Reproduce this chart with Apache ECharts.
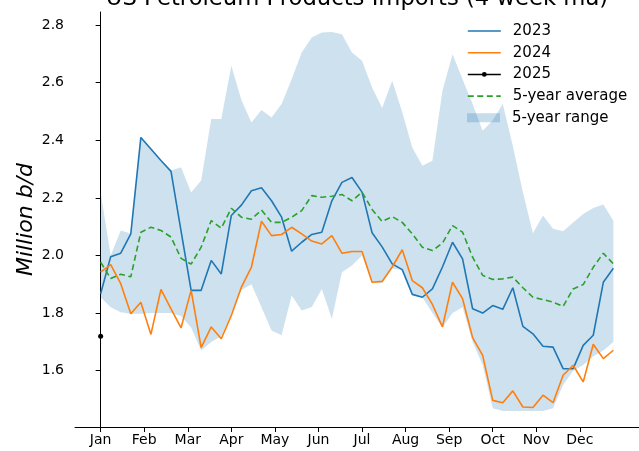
<!DOCTYPE html>
<html>
<head>
<meta charset="utf-8">
<script src="https://cdn.jsdelivr.net/npm/echarts@6/dist/echarts.min.js"></script>
<style>
  html, body { margin: 0; padding: 0; background: #fff; }
  #chart { width: 639px; height: 451px; }
</style>
</head>
<body>
<div id="chart"></div>
<script>
// Weekly US petroleum products imports, 4-week moving average, million b/d.
// Index = week of the year (0..51).
const monthLabels = ['Jan', 'Feb', 'Mar', 'Apr', 'May', 'Jun', 'Jul', 'Aug', 'Sep', 'Oct', 'Nov', 'Dec'];
const yTickValues = [1.6, 1.8, 2.0, 2.2, 2.4, 2.6, 2.8];

const imports2023 = [
  1.867, 1.996, 2.008, 2.075, 2.41, 2.37, 2.33, 2.292, 2.085, 1.879,
  1.879, 1.983, 1.936, 2.139, 2.175, 2.225, 2.235, 2.19, 2.133, 2.015,
  2.046, 2.073, 2.081, 2.19, 2.254, 2.271, 2.22, 2.079, 2.03, 1.971,
  1.951, 1.865, 1.855, 1.884, 1.96, 2.046, 1.988, 1.815, 1.80, 1.826,
  1.813, 1.888, 1.754, 1.728, 1.685, 1.682, 1.607, 1.607, 1.688, 1.723,
  1.907, 1.956
];

const imports2024 = [
  1.942, 1.968, 1.902, 1.798, 1.838, 1.726, 1.882, 1.815, 1.749, 1.879,
  1.68, 1.752, 1.711, 1.792, 1.89, 1.96, 2.119, 2.069, 2.073, 2.098,
  2.075, 2.05, 2.04, 2.069, 2.008, 2.014, 2.014, 1.907, 1.91, 1.96,
  2.02, 1.913, 1.888, 1.83, 1.752, 1.907, 1.85, 1.715, 1.653, 1.497,
  1.489, 1.53, 1.474, 1.472, 1.515, 1.489, 1.584, 1.619, 1.561, 1.692,
  1.642, 1.671
];

const imports2025 = [1.72];

const avg5yr = [
  1.977, 1.92, 1.935, 1.926, 2.081, 2.098, 2.087, 2.064, 1.99, 1.97,
  2.029, 2.121, 2.095, 2.164, 2.133, 2.126, 2.158, 2.115, 2.115, 2.133,
  2.156, 2.208, 2.202, 2.206, 2.212, 2.19, 2.22, 2.16, 2.118, 2.135,
  2.115, 2.075, 2.029, 2.017, 2.043, 2.104, 2.081, 1.994, 1.931, 1.917,
  1.919, 1.925, 1.888, 1.855, 1.847, 1.838, 1.823, 1.884, 1.899, 1.959,
  2.008, 1.971
];

const rangeLow = [
  1.855, 1.82, 1.803, 1.798, 1.798, 1.80, 1.80, 1.80, 1.79, 1.75,
  1.67, 1.70, 1.72, 1.80, 1.88, 1.90, 1.82, 1.74, 1.723, 1.861,
  1.809, 1.821, 1.884, 1.78, 1.942, 1.965, 2.0, 1.905, 1.905, 1.955,
  1.95, 1.865, 1.855, 1.80, 1.75, 1.80, 1.82, 1.70, 1.62, 1.47,
  1.46, 1.46, 1.46, 1.46, 1.46, 1.47, 1.55, 1.60, 1.62, 1.65,
  1.67, 1.70
];

const rangeHigh = [
  2.219, 2.0, 2.087, 2.076, 2.41, 2.37, 2.33, 2.295, 2.306, 2.219,
  2.26, 2.474, 2.474, 2.659, 2.54, 2.462, 2.505, 2.479, 2.526, 2.612,
  2.705, 2.757, 2.774, 2.776, 2.768, 2.705, 2.676, 2.583, 2.512, 2.607,
  2.497, 2.375, 2.312, 2.329, 2.572, 2.699, 2.612, 2.526, 2.433, 2.47,
  2.526, 2.38, 2.22, 2.077, 2.139, 2.093, 2.084, 2.115, 2.144, 2.165,
  2.177, 2.121
];

const FONT = '"DejaVu Sans", sans-serif';
const RANGE_FILL = 'rgba(31,119,180,0.22)';
const WEEKS_PER_MONTH = 52 / 12;
const monthTicks = monthLabels.map((_, k) => k * WEEKS_PER_MONTH);
const toPoints = arr => arr.map((v, i) => [i, v]);

const chart = echarts.init(document.getElementById('chart'), null, { renderer: 'canvas' });

const lineSeries = (name, data, color, extra) => Object.assign({
  name: name,
  type: 'line',
  data: toPoints(data),
  symbol: 'none',
  smooth: false,
  lineStyle: { color: color, width: 1.6 },
  itemStyle: { color: color },
  emphasis: { disabled: true },
  z: 3
}, extra || {});

// Min/max band drawn as a single polygon: upper edge left to right, lower edge back.
function renderRange(params, api) {
  if (params.dataIndex !== 0) return null;
  const pts = [];
  for (let i = 0; i < rangeHigh.length; i++) pts.push(api.coord([i, rangeHigh[i]]));
  for (let i = rangeLow.length - 1; i >= 0; i--) pts.push(api.coord([i, rangeLow[i]]));
  return { type: 'polygon', shape: { points: pts }, style: { fill: RANGE_FILL }, silent: true };
}

chart.setOption({
  animation: false,
  backgroundColor: '#fff',
  grid: { left: 75, right: 0, top: 12, bottom: 24, outerBoundsMode: 'none' },
  graphic: [{
    type: 'text',
    x: 357,
    y: -0.9,
    silent: true,
    style: {
      text: 'US Petroleum Products Imports (4 week ma)',
      font: '22.7px "DejaVu Sans", sans-serif',
      fill: '#000',
      align: 'center',
      verticalAlign: 'middle'
    }
  }],
  legend: [{
    orient: 'vertical',
    left: 467,
    top: 20.2,
    padding: 0,
    itemGap: 0,
    itemWidth: 33,
    itemHeight: 6,
    selectedMode: false,
    lineStyle: { width: 1.6 },
    textStyle: { fontFamily: FONT, fontSize: 15, color: '#000', lineHeight: 21.7, padding: [0, 0, 0, 7] },
    data: [
      { name: '2023', itemStyle: { opacity: 0 } },
      { name: '2024', itemStyle: { opacity: 0 } },
      { name: '2025' },
      { name: '5-year average', itemStyle: { opacity: 0 } }
    ]
  }, {
    orient: 'vertical',
    left: 467,
    top: 106.9,
    padding: 0,
    itemGap: 0,
    itemWidth: 33,
    itemHeight: 9,
    selectedMode: false,
    textStyle: { fontFamily: FONT, fontSize: 15, color: '#000', lineHeight: 21.7, padding: [0, 0, 0, 7] },
    data: [
      { name: '5-year range', icon: 'rect', itemStyle: { color: 'rgba(31,119,180,0.25)', borderWidth: 0 } }
    ]
  }],
  xAxis: {
    type: 'value',
    min: -2.55,
    max: 53.55,
    splitLine: { show: false },
    axisLine: { show: true, lineStyle: { color: '#000', width: 1 } },
    axisTick: { show: true, length: 5, customValues: monthTicks, lineStyle: { color: '#000', width: 1 } },
    axisLabel: {
      customValues: monthTicks,
      margin: 6,
      fontFamily: FONT,
      fontSize: 14,
      color: '#000',
      formatter: v => monthLabels[Math.round(v / WEEKS_PER_MONTH)]
    }
  },
  yAxis: {
    type: 'value',
    min: 1.4045,
    max: 2.8455,
    name: 'Million b/d',
    nameLocation: 'middle',
    nameGap: 38,
    nameMoveOverlap: false,
    nameTextStyle: { fontFamily: FONT, fontStyle: 'italic', fontSize: 22, color: '#000' },
    splitLine: { show: false },
    axisLine: { show: true, lineStyle: { color: '#000', width: 1 } },
    axisTick: { show: true, length: 5, customValues: yTickValues, lineStyle: { color: '#000', width: 1 } },
    axisLabel: {
      customValues: yTickValues,
      margin: 11,
      fontFamily: FONT,
      fontSize: 14,
      color: '#000',
      formatter: v => v.toFixed(1)
    }
  },
  series: [
    {
      name: '5-year range',
      type: 'custom',
      data: rangeHigh.map((v, i) => [i, rangeLow[i], v]),
      encode: { x: 0, y: [1, 2] },
      renderItem: renderRange,
      itemStyle: { color: 'rgba(31,119,180,0.25)' },
      silent: true,
      z: 1
    },
    lineSeries('2023', imports2023, '#1f77b4'),
    lineSeries('2024', imports2024, '#ff7f0e'),
    lineSeries('2025', imports2025, '#000000', { symbol: 'circle', symbolSize: 5, showSymbol: true }),
    lineSeries('5-year average', avg5yr, '#2ca02c', { lineStyle: { color: '#2ca02c', width: 1.6, type: [6, 3.5] } })
  ]
});
</script>
</body>
</html>
